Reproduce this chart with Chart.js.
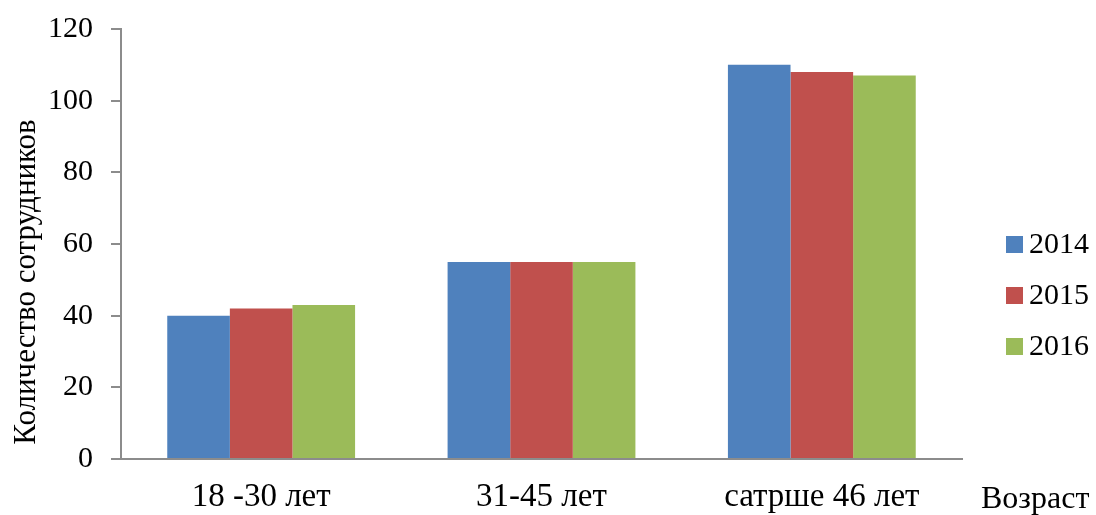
<!DOCTYPE html>
<html>
<head>
<meta charset="utf-8">
<script src="https://cdn.jsdelivr.net/npm/chart.js@4/dist/chart.umd.min.js"></script>
<style>
  html, body { margin: 0; padding: 0; background: #fff; }
  #wrap { width: 1096px; height: 515px; position: relative; }
</style>
</head>
<body>
<div id="wrap"><canvas id="c"></canvas></div>
<script>
// Data
const categories = ['18 -30 лет', '31-45 лет', 'сатрше 46 лет'];
const years = ['2014', '2015', '2016'];
const values2014 = [40, 55, 110];
const values2015 = [42, 55, 108];
const values2016 = [43, 55, 107];
const yTicks = [0, 20, 40, 60, 80, 100, 120];
const colors = ['#4F81BD', '#C0504D', '#9BBB59'];

const FONT = '"Liberation Serif", "Times New Roman", serif';

// Extra texts + legend drawn on the canvas
const extras = {
    id: 'extras',
    afterDraw(chart) {
        const ctx = chart.ctx;
        ctx.save();
        ctx.fillStyle = '#000';

        // y title
        ctx.font = '31px ' + FONT;
        ctx.save();
        ctx.translate(27, 282);
        ctx.rotate(-Math.PI / 2);
        ctx.textAlign = 'center';
        ctx.textBaseline = 'middle';
        ctx.fillText('Количество сотрудников', 0, 0);
        ctx.restore();

        // x title
        ctx.textAlign = 'left';
        ctx.textBaseline = 'middle';
        ctx.font = '32px ' + FONT;
        ctx.fillText('Возраст', 981, 500);

        // legend
        ctx.font = '30px ' + FONT;
        chart.data.datasets.forEach((ds, i) => {
            const cy = 244 + i * 51;
            ctx.fillStyle = ds.backgroundColor;
            ctx.fillRect(1006, cy - 8, 17, 17);
            ctx.fillStyle = '#000';
            ctx.fillText(ds.label, 1029, cy + 1);
        });
        ctx.restore();
    }
};

new Chart(document.getElementById('c'), {
    type: 'bar',
    data: {
        labels: categories,
        datasets: [
            { label: years[0], data: values2014, backgroundColor: colors[0] },
            { label: years[1], data: values2015, backgroundColor: colors[1] },
            { label: years[2], data: values2016, backgroundColor: colors[2] }
        ]
    },
    options: {
        responsive: true,
        maintainAspectRatio: false,
        animation: false,
        devicePixelRatio: 1,
        layout: { padding: { top: 0, right: 134, left: 0, bottom: 0 } },
        datasets: {
            bar: { categoryPercentage: 0.67, barPercentage: 1.0, borderWidth: 0 }
        },
        plugins: {
            legend: { display: false },
            tooltip: { enabled: false }
        },
        scales: {
            x: {
                afterFit: (s) => { s.height = 56; },
                grid: { display: false, drawTicks: false },
                border: { color: '#8C8C8C', width: 2 },
                ticks: { color: '#000', font: { family: FONT, size: 33 }, padding: 19 }
            },
            y: {
                min: 0,
                max: 120,
                afterFit: (s) => { s.width = 121; s.paddingTop = 29; },
                afterBuildTicks: (s) => { s.ticks = yTicks.map(v => ({ value: v })); },
                grid: { drawOnChartArea: false, drawTicks: true, tickLength: 10, color: '#8C8C8C', lineWidth: 2 },
                border: { color: '#8C8C8C', width: 2 },
                ticks: { color: '#000', font: { family: FONT, size: 30 }, padding: 18 }
            }
        }
    },
    plugins: [extras]
});
</script>
</body>
</html>
